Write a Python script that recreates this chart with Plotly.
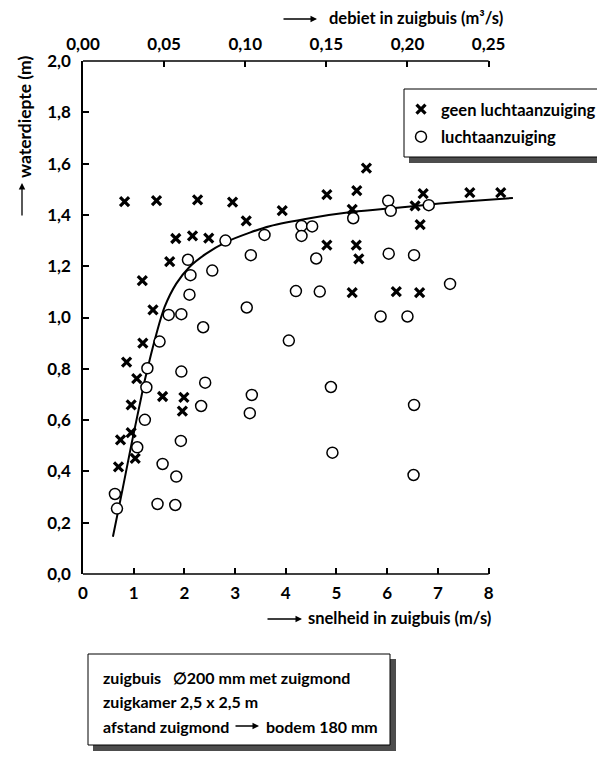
import plotly.graph_objects as go

# ---------------- data ----------------
speed_geen = [0.82, 1.45, 2.26, 2.95, 3.22, 1.83, 2.16, 2.48, 1.71, 1.17, 1.38, 1.18, 0.86,
              1.06, 1.57, 1.99, 1.96, 0.95, 0.95, 0.74, 1.03, 0.70,
              3.93, 5.59, 4.81, 5.40, 6.71, 7.63, 8.24, 5.31, 6.55, 6.65, 4.81, 5.39, 5.44,
              5.31, 6.18, 6.64]
depth_geen = [1.452, 1.456, 1.459, 1.450, 1.377, 1.308, 1.318, 1.309, 1.218, 1.144, 1.030, 0.900, 0.826,
              0.762, 0.692, 0.689, 0.635, 0.659, 0.551, 0.523, 0.451, 0.418,
              1.417, 1.582, 1.479, 1.495, 1.483, 1.487, 1.487, 1.422, 1.435, 1.362, 1.282, 1.282, 1.229,
              1.097, 1.101, 1.097]

speed_lucht = [2.81, 3.58, 2.07, 3.31, 2.12, 2.55, 2.10, 1.69, 1.94, 3.23, 2.37, 1.51, 1.27, 1.94,
               1.25, 2.41, 3.33, 2.33, 3.29, 1.22, 1.93, 1.07, 1.57, 1.84, 0.63, 1.47, 1.82, 0.67,
               4.31, 4.52, 4.31, 5.33, 6.02, 6.07, 6.82, 4.60, 6.03, 6.53, 4.20, 4.67, 7.24, 5.87,
               6.40, 4.06, 4.89, 6.53, 4.92, 6.52]
depth_lucht = [1.300, 1.322, 1.225, 1.243, 1.165, 1.183, 1.089, 1.010, 1.013, 1.039, 0.962, 0.906, 0.802, 0.789,
               0.728, 0.746, 0.698, 0.655, 0.627, 0.601, 0.519, 0.494, 0.429, 0.380, 0.312, 0.273, 0.269, 0.255,
               1.357, 1.355, 1.318, 1.387, 1.455, 1.416, 1.438, 1.230, 1.249, 1.243, 1.103, 1.101, 1.131, 1.004,
               1.004, 0.910, 0.729, 0.659, 0.473, 0.386]

curve_speed = [0.59, 0.78, 0.96, 1.15, 1.22, 1.45, 1.61, 1.84, 2.10, 2.43, 2.83, 3.29, 3.68,
               4.50, 5.33, 6.20, 7.03, 7.80, 8.48]
curve_depth = [0.145, 0.33, 0.51, 0.69, 0.756, 0.938, 1.041, 1.132, 1.197, 1.249, 1.295, 1.331, 1.356,
               1.388, 1.412, 1.428, 1.444, 1.456, 1.466]

speed_ticks = [0, 1, 2, 3, 4, 5, 6, 7, 8]
flow_ticks = [0.00, 0.05, 0.10, 0.15, 0.20, 0.25]
depth_ticks = [0.0, 0.2, 0.4, 0.6, 0.8, 1.0, 1.2, 1.4, 1.6, 1.8, 2.0]
speed_max = 8.6
flow_per_speed = 0.25 / 8.0

legend_names = ["geen luchtaanzuiging", "luchtaanzuiging"]
info_lines = ["zuigbuis\u00a0\u00a0 \u2205200 mm met zuigmond", "zuigkamer 2,5 x 2,5 m",
              "afstand zuigmond", "bodem 180 mm"]

# ---------------- layout helpers (screen pixels; page body has an 8 px margin) ----------------
OFF = 8
W, H = 597, 750
PLOT_L, PLOT_R, PLOT_T, PLOT_B = 83, 519, 61, 574      # screen pixels of the plot area
L, T = PLOT_L - OFF, PLOT_T - OFF
R, B = W - (PLOT_R - OFF), H - (PLOT_B - OFF)
PW, PH = W - L - R, H - T - B


def px(x):
    return (x - OFF - L) / PW


def py(y):
    return (H - B - (y - OFF)) / PH


FAMILY = "Lato, 'Open Sans', sans-serif"
FONT = dict(family=FAMILY, size=17, color="black", weight=700)
TFONT = dict(family=FAMILY, size=16.5, color="black", weight=700)
BFONT = dict(family=FAMILY, size=16, color="black", weight=700)
YFONT = dict(family=FAMILY, size=17.5, color="black", weight=700)
LFONT = dict(family=FAMILY, size=16.5, color="black", weight=700)

fig = go.Figure()
fig.add_trace(go.Scatter(x=curve_speed, y=curve_depth, mode="lines",
                         line=dict(color="black", width=2, shape="spline", smoothing=0.8),
                         showlegend=False, hoverinfo="skip"))
# same curve expressed as discharge, only to anchor the top (debiet) axis
fig.add_trace(go.Scatter(x=[s * flow_per_speed for s in curve_speed], y=curve_depth, xaxis="x2",
                         mode="lines", line=dict(width=0, color="rgba(0,0,0,0)"),
                         showlegend=False, hoverinfo="skip"))
fig.add_trace(go.Scatter(x=speed_geen, y=depth_geen, mode="markers", name=legend_names[0],
                         legendgroup="a",
                         marker=dict(symbol="x-thin", size=9, color="black",
                                     line=dict(width=3.2, color="black"))))
fig.add_trace(go.Scatter(x=speed_lucht, y=depth_lucht, mode="markers", name=legend_names[1],
                         legendgroup="b",
                         marker=dict(symbol="circle", size=11, color="white",
                                     line=dict(width=1.5, color="black"))))

axis_common = dict(ticks="inside", ticklen=6, tickwidth=1.5, tickcolor="black",
                   showgrid=False, zeroline=False, tickfont=FONT, ticklabelstandoff=7)

shapes = [
    dict(type="line", xref="x", yref="paper", x0=speed_ticks[0], x1=speed_ticks[-1], y0=0, y1=0,
         line=dict(color="black", width=1.5)),
    dict(type="line", xref="x", yref="paper", x0=speed_ticks[0], x1=speed_ticks[-1], y0=1, y1=1,
         line=dict(color="black", width=1.5)),
    # legend box with shadow
    dict(type="rect", xref="paper", yref="paper", x0=px(409), x1=px(604), y0=py(94), y1=py(163),
         fillcolor="#4d4d4d", line=dict(width=0), layer="above"),
    dict(type="rect", xref="paper", yref="paper", x0=px(404), x1=px(598), y0=py(89), y1=py(157),
         fillcolor="white", line=dict(color="black", width=1), layer="above"),
    # info box with shadow
    dict(type="rect", xref="paper", yref="paper", x0=px(93), x1=px(396), y0=py(659), y1=py(751),
         fillcolor="#4d4d4d", line=dict(width=0)),
    dict(type="rect", xref="paper", yref="paper", x0=px(88), x1=px(390), y0=py(654), y1=py(745),
         fillcolor="white", line=dict(color="black", width=1)),
]


def arrow(xh, yh, dx, dy):
    return dict(xref="paper", yref="paper", x=px(xh), y=py(yh), ax=dx, ay=dy, text="",
                showarrow=True, arrowhead=2, arrowsize=1, arrowwidth=1.3, arrowcolor="black")


annotations = [
    dict(xref="paper", yref="paper", x=px(493), y=py(618), xanchor="right", yanchor="middle",
         text="snelheid in zuigbuis (m/s)", showarrow=False, font=TFONT),
    arrow(302, 619, -36, 0),
    dict(xref="paper", yref="paper", x=px(505), y=py(18), xanchor="right", yanchor="middle",
         text="debiet in zuigbuis (m³/s)", showarrow=False, font=TFONT),
    arrow(317, 19, -35, 0),
    dict(xref="paper", yref="paper", x=px(24), y=py(117), xanchor="center", yanchor="middle",
         text="waterdiepte (m)", textangle=-90, showarrow=False, font=YFONT),
    arrow(22, 183, 0, 34),
    dict(xref="paper", yref="paper", x=px(101), y=py(677), xanchor="left", yanchor="middle",
         text=info_lines[0], showarrow=False, font=BFONT),
    dict(xref="paper", yref="paper", x=px(101), y=py(701), xanchor="left", yanchor="middle",
         text=info_lines[1], showarrow=False, font=BFONT),
    dict(xref="paper", yref="paper", x=px(101), y=py(726), xanchor="left", yanchor="middle",
         text=info_lines[2], showarrow=False, font=BFONT),
    arrow(259, 726, -25, 0),
    dict(xref="paper", yref="paper", x=px(264), y=py(726), xanchor="left", yanchor="middle",
         text=info_lines[3], showarrow=False, font=BFONT),
]

fig.update_layout(
    width=W, height=H,
    margin=dict(l=L, r=R, t=T, b=B, autoexpand=False),
    paper_bgcolor="white", plot_bgcolor="white",
    separators=",.",
    font=FONT,
    xaxis=dict(range=[0, speed_max], tickvals=speed_ticks, showline=False, **axis_common),
    xaxis2=dict(range=[0, speed_max * flow_per_speed], tickvals=flow_ticks, tickformat=".2f",
                overlaying="x", side="top", anchor="y", showline=False, **axis_common),
    yaxis=dict(range=[0, 2.0], tickvals=depth_ticks, tickformat=".1f", showline=True,
               linecolor="black", linewidth=1.5, **axis_common),
    showlegend=True,
    legend=dict(x=px(401), y=py(92), xanchor="left", yanchor="top", bgcolor="rgba(0,0,0,0)",
                borderwidth=0, font=LFONT, traceorder="grouped", tracegroupgap=3,
                itemwidth=30),
    shapes=shapes,
    annotations=annotations,
)

fig.write_html("out.html")
